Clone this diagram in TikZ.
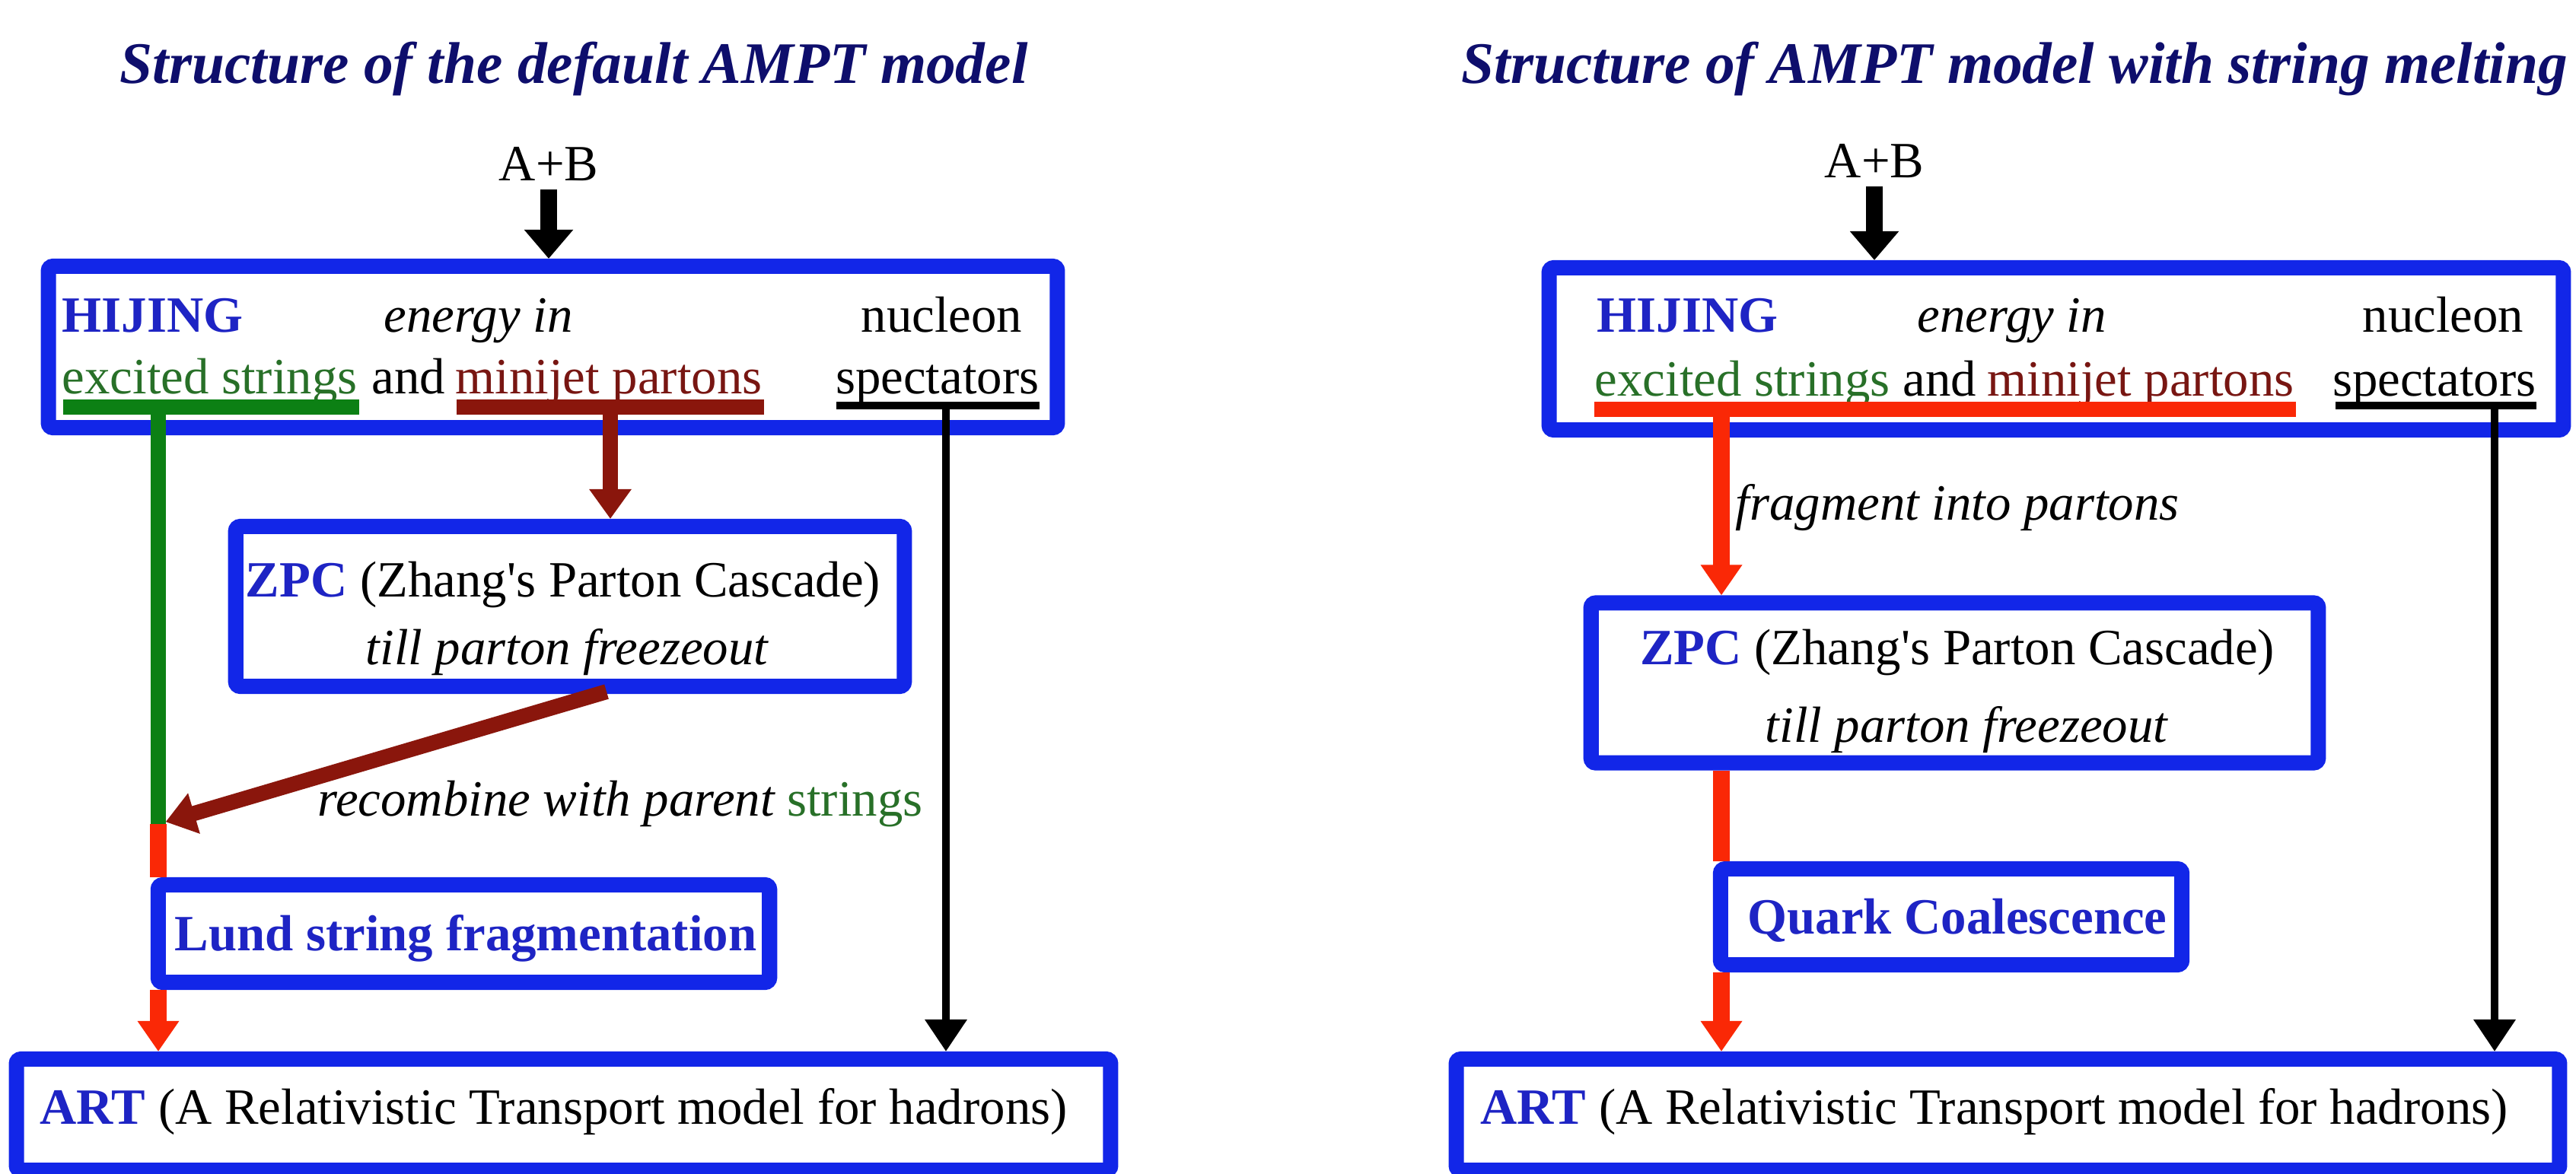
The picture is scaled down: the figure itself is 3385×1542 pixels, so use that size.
\documentclass[tikz,border=0pt]{standalone}
\usepackage{fontspec}
\setmainfont{Liberation Serif}
\usetikzlibrary{arrows.meta, calc}

\definecolor{boxblue}{RGB}{18,38,232}
\definecolor{txtblue}{RGB}{30,36,196}
\definecolor{navy}{RGB}{14,14,108}
\definecolor{strgreen}{RGB}{12,128,20}
\definecolor{txtgreen}{RGB}{40,112,40}
\definecolor{jetred}{RGB}{138,22,12}
\definecolor{txtjetred}{RGB}{120,22,18}
\definecolor{partonred}{RGB}{250,40,6}

\newcommand{\model}[1]{\textcolor{txtblue}{\bfseries #1}}

\begin{document}
\begin{tikzpicture}[
    x=0.01cm, y=-0.01cm, % one unit is one pixel of the layout, y runs down
    box/.style={draw=boxblue, line width=0.2cm, fill=white, rounded corners=0.06cm, inner sep=0pt}, % Style for the blue frames
    txt/.style={inner sep=0pt, font=\fontsize{19}{23}\selectfont}, % Style for plain text
    heading/.style={inner sep=0pt, text=navy, font=\fontsize{22}{26}\selectfont\bfseries\itshape}, % Style for the titles
    feed/.style={line width=0.22cm, -{Triangle[width=0.62cm, length=0.38cm]}}, % Style for the A+B arrows
    jet/.style={line width=0.2cm, jetred, -{Triangle[width=0.53cm, length=0.39cm]}}, % Style for minijet arrows
    parton/.style={line width=0.22cm, partonred, -{Triangle[width=0.52cm, length=0.4cm]}}, % Style for red arrows
    partonline/.style={line width=0.22cm, partonred}, % red lines without head
    stringline/.style={line width=0.2cm, strgreen}, % green string line
    spectator/.style={line width=0.1cm, -{Triangle[width=0.53cm, length=0.42cm]}}, % thin black arrows
    bar/.style={line width=0.2cm} % underline bars
]

    \useasboundingbox (0,0) rectangle (3385,1542);

    % Titles
    \node[heading, anchor=base west] (titleL) at (157,109) {Structure of the default AMPT model};
    \node[heading, anchor=base west] (titleR) at (1920,109) {Structure of AMPT model with string melting};

    % Boxes, left
    \node[box, minimum width=13.25cm, minimum height=2.12cm] (hijingL) at (726.5,456) {};
    \node[box, minimum width=8.78cm, minimum height=2.10cm] (zpcL) at (749,797) {};
    \node[box, minimum width=8.03cm, minimum height=1.28cm] (lundL) at (609.5,1227) {};
    \node[box, minimum width=14.37cm, minimum height=1.46cm] (artL) at (740.5,1465) {};

    % Boxes, right
    \node[box, minimum width=13.32cm, minimum height=2.13cm] (hijingR) at (2702,458.5) {};
    \node[box, minimum width=9.55cm, minimum height=2.10cm] (zpcR) at (2568.5,897.5) {};
    \node[box, minimum width=6.06cm, minimum height=1.26cm] (quarkR) at (2564,1205) {};
    \node[box, minimum width=14.49cm, minimum height=1.46cm] (artR) at (2638.5,1465) {};

    % Texts, left
    \node[txt, inner sep=0.11cm, anchor=base] (abL) at (721,237) {A+B};
    \node[txt, anchor=base west] (hijL) at (81,436) {\model{HIJING}};
    \node[txt, anchor=base west, font=\fontsize{19}{23}\selectfont\itshape] (enL) at (504,436) {energy in};
    \node[txt, anchor=base east] (nuL) at (1344,436) {nucleon};
    \node[txt, anchor=base west, text=txtgreen] (strL) at (81,517) {excited strings};
    \node[txt, anchor=base west] (andL) at (488,517) {and};
    \node[txt, anchor=base west, text=txtjetred] (minL) at (598,517) {minijet partons};
    \node[txt, anchor=base east] (spL) at (1366,517) {spectators};
    \node[txt, anchor=base] (zpcaL) at (740,784) {\model{ZPC} (Zhang\textquotesingle s Parton Cascade)};
    \node[txt, anchor=base, font=\fontsize{19}{23}\selectfont\itshape] (zpcbL) at (745,873) {till parton freezeout};
    \node[txt, anchor=base west] (recL) at (417,1072) {\itshape recombine with parent \upshape\textcolor{txtgreen}{strings}};
    \node[txt, anchor=base] (lundtL) at (612,1249) {\model{Lund string fragmentation}};
    \node[txt, anchor=base west] (arttL) at (52,1477) {\model{ART} (A Relativistic Transport model for hadrons)};

    % Texts, right
    \node[txt, inner sep=0.11cm, anchor=base] (abR) at (2463,233) {A+B};
    \node[txt, anchor=base west] (hijR) at (2098,436) {\model{HIJING}};
    \node[txt, anchor=base west, font=\fontsize{19}{23}\selectfont\itshape] (enR) at (2519,436) {energy in};
    \node[txt, anchor=base east] (nuR) at (3317,436) {nucleon};
    \node[txt, anchor=base west, text=txtgreen] (strR) at (2095,520) {excited strings};
    \node[txt, anchor=base west] (andR) at (2500,520) {and};
    \node[txt, anchor=base west, text=txtjetred] (minR) at (2611,520) {minijet partons};
    \node[txt, anchor=base east] (spR) at (3333,520) {spectators};
    \node[txt, anchor=base west, font=\fontsize{19}{23}\selectfont\itshape] (fragR) at (2280,683) {fragment into partons};
    \node[txt, anchor=base] (zpcaR) at (2572,873) {\model{ZPC} (Zhang\textquotesingle s Parton Cascade)};
    \node[txt, anchor=base, font=\fontsize{19}{23}\selectfont\itshape] (zpcbR) at (2584,975) {till parton freezeout};
    \node[txt, anchor=base] (quarktR) at (2572,1227) {\model{Quark Coalescence}};
    \node[txt, anchor=base west] (arttR) at (1945,1477) {\model{ART} (A Relativistic Transport model for hadrons)};

    % Underline bars
    \draw[bar, strgreen] ($(strL.base west)+(2,18)$) -- ($(strL.base east)+(2,18)$);
    \draw[bar, jetred] ($(minL.base west)+(2,18)$) -- ($(minL.base east)+(2,18)$);
    \draw[bar, line width=0.1cm] ($(spL.base west)+(2,16)$) -- ($(spL.base east)+(0,16)$);
    \draw[bar, partonred] ($(strR.base west)+(0,18)$) -- ($(minR.base east)+(2,18)$);
    \draw[bar, line width=0.1cm] ($(spR.base west)+(5,13)$) -- ($(spR.base east)+(0,13)$);

    % Branch points
    \coordinate (gL) at (208,535);
    \coordinate (jL) at (208,1083);
    \coordinate (mL) at (802,535);
    \coordinate (sL) at (1243,533);
    \coordinate (rR) at (2262,538);
    \coordinate (sR) at (3278,533);

    % Connectors, left
    \draw[feed] (abL) -- (abL |- hijingL.north);
    \draw[stringline] (gL) -- (jL);
    \draw[jet] (mL) -- (mL |- zpcL.north);
    \draw[jet, shorten >=0.1cm] ($(zpcL.south -| mL)+(-5,-3)$) -- (jL);
    \draw[partonline] (jL) -- (jL |- lundL.north);
    \draw[parton] (jL |- lundL.south) -- (jL |- artL.north);
    \draw[spectator] (sL) -- (sL |- artL.north);

    % Connectors, right
    \draw[feed] (abR) -- (abR |- hijingR.north);
    \draw[parton] (rR) -- (rR |- zpcR.north);
    \draw[partonline] (rR |- zpcR.south) -- (rR |- quarkR.north);
    \draw[parton] (rR |- quarkR.south) -- (rR |- artR.north);
    \draw[spectator] (sR) -- (sR |- artR.north);

\end{tikzpicture}
\end{document}
